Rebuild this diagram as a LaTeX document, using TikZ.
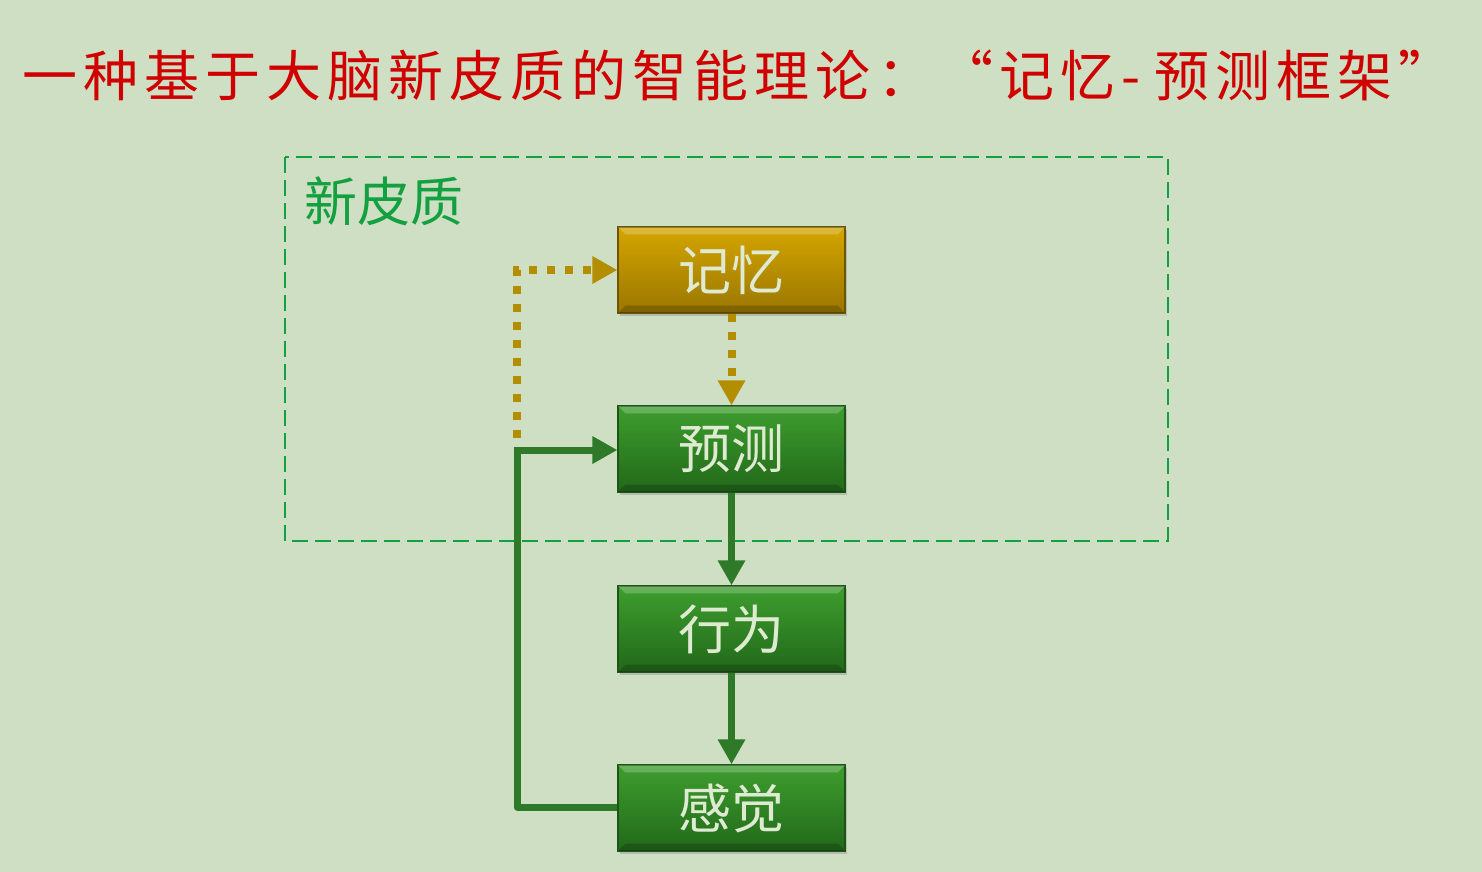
\documentclass[tikz,border=0pt]{standalone}
\usepackage{fontspec}
\newfontfamily\cjk{Noto Sans CJK SC}
\newfontfamily\cjktitle[LetterSpace=11]{Noto Sans CJK SC}
\usetikzlibrary{arrows.meta,shadows}

\definecolor{bg}{HTML}{CFDFC4}
\definecolor{titlered}{HTML}{D00000}
\definecolor{cortexgreen}{HTML}{12A040}
\definecolor{flowgreen}{HTML}{2F7A28}
\definecolor{flowgold}{HTML}{B38E00}
\definecolor{boxtext}{HTML}{DFEAD2}
\definecolor{greentop}{HTML}{3E9E2E}
\definecolor{greenbot}{HTML}{22681A}
\definecolor{greenedge}{HTML}{1D5517}
\definecolor{goldtop}{HTML}{D4A600}
\definecolor{goldbot}{HTML}{9A7600}
\definecolor{goldedge}{HTML}{6E5600}

\tikzset{
  stage/.style={rectangle, minimum width=113.5pt, minimum height=43pt,
    inner sep=0pt, draw=greenedge, line width=0.6pt,
    top color=greentop, bottom color=greenbot,
    drop shadow={shadow xshift=1.2pt, shadow yshift=-1.5pt, opacity=0.35},
    font=\cjk\fontsize{26.5}{30}\selectfont, text=boxtext},
  memstage/.style={stage, draw=goldedge, top color=goldtop, bottom color=goldbot},
  solidflow/.style={draw=flowgreen, line width=3.5pt,
    -{Triangle[width=13pt,length=12.5pt]}},
  dottedflow/.style={draw=flowgold, line width=4pt,
    dash pattern=on 4pt off 5pt,
    -{Triangle[width=13pt,length=12.5pt]}},
  plainflow/.style={draw=flowgreen, line width=3.5pt, line join=round}
}

\begin{document}
\begin{tikzpicture}[x=0.5pt, y=-0.5pt]
  % page background
  \fill[bg] (0,0) rectangle (1482,872);
  \useasboundingbox (0,0) rectangle (1482,872);

  % heading
  \node[anchor=west, inner sep=0pt, text=titlered,
        font=\cjktitle\fontsize{27.5}{32}\selectfont] (title) at (22,76)
    {一种基于大脑新皮质的智能理论：“记忆-\hspace{7pt}预测框架”};

  % neocortex region
  \draw[cortexgreen, line width=1pt, dash pattern=on 8pt off 3.5pt]
    (285,157) rectangle (1168,541);
  \node[anchor=center, inner sep=0pt, text=cortexgreen,
        font=\cjk\fontsize{26.5}{30}\selectfont] (cortex) at (384,201) {新皮质};

  % stages
  \node[memstage] (memory)  at (731.5,270) {记忆};
  \node[stage]    (predict) at (731.5,449) {预测};
  \node[stage]    (action)  at (731.5,629) {行为};
  \node[stage]    (sense)   at (731.5,808) {感觉};

  % bevel highlights on the boxes
  \foreach \n in {memory,predict,action,sense}{
    \fill[white, opacity=0.22]
      ([xshift=0.4pt,yshift=-0.4pt]\n.north west) -- ([xshift=-0.4pt,yshift=-0.4pt]\n.north east)
      -- ([xshift=-4pt,yshift=-4pt]\n.north east) -- ([xshift=4pt,yshift=-4pt]\n.north west) -- cycle;
    \fill[black, opacity=0.18]
      ([xshift=0.4pt,yshift=0.4pt]\n.south west) -- ([xshift=-0.4pt,yshift=0.4pt]\n.south east)
      -- ([xshift=-4pt,yshift=4pt]\n.south east) -- ([xshift=4pt,yshift=4pt]\n.south west) -- cycle;
  }

  % feedback from sensing back to prediction
  \coordinate (loopbottom) at (517,807);
  \coordinate (looptop)    at (517,450);
  \draw[plainflow] (sense.west |- loopbottom) -- (loopbottom) -- (looptop);
  \draw[solidflow] ([xshift=-1.75pt]looptop) -- (predict.west |- looptop);

  % memory recall path
  \coordinate (recallstart)  at (517,438);
  \coordinate (recallcorner) at (517,270);
  \draw[dottedflow] (recallstart) -- (recallcorner) -- (memory.west);
  \draw[dottedflow] (memory.south) -- (predict.north);

  % main forward chain
  \draw[solidflow] (predict.south) -- (action.north);
  \draw[solidflow] (action.south) -- (sense.north);
\end{tikzpicture}
\end{document}
